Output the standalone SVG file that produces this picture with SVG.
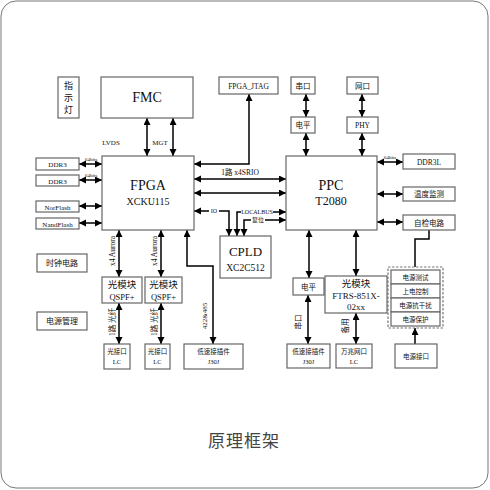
<svg xmlns="http://www.w3.org/2000/svg" width="490" height="490" viewBox="0 0 490 490">
<defs>
<marker id="ah" markerUnits="userSpaceOnUse" markerWidth="8" markerHeight="8" refX="7" refY="3.5" orient="auto-start-reverse"><path d="M0,0 L7,3.5 L0,7 z" fill="#000"/></marker>
<style>
.b{fill:#fff;stroke:#666;stroke-width:1.2}
.t{font-family:"Liberation Serif","Noto Sans CJK SC",serif;fill:#111;text-anchor:middle}
.c{fill:none;stroke:#000;stroke-width:1.5}
.d{marker-start:url(#ah);marker-end:url(#ah)}
.e{marker-end:url(#ah)}
.bg{fill:#fff}
</style>
</defs>
<rect x="1" y="1" width="487" height="487" rx="15" fill="#fff" stroke="#777" stroke-width="1"/>

<g id="connectors">
<path class="c d" d="M147,118 V156" stroke-width="2"/>
<path class="c d" d="M173,118 V156" stroke-width="2"/>
<path class="c d" d="M79,164 H102"/>
<path class="c d" d="M79,180 H102"/>
<path class="c d" d="M79,206 H102"/>
<path class="c d" d="M79,223 H102"/>
<path class="c d" d="M249,94 V164 H194"/>
<path class="c d" d="M194,179 H286"/>
<path class="c d" d="M194,193 H286"/>
<path class="c d" d="M194,211 H229 V236"/>
<path class="c d" d="M237,236 V212 H286"/>
<path class="c d" d="M244,236 V220 H286"/>
<path class="c d" d="M306,94 V117"/>
<path class="c d" d="M306,133 V156"/>
<path class="c d" d="M362,94 V117"/>
<path class="c d" d="M362,133 V156"/>
<path class="c d" d="M377,162 H403"/>
<path class="c d" d="M377,194 H403"/>
<path class="c d" d="M377,222 H403"/>
<path class="c" d="M429,230 V239 H415 V267" stroke-width="1"/>
<path class="c e" d="M415,344 V328"/>
<path class="c d" d="M309,230 V278"/>
<path class="c d" d="M308,295 V344"/>
<path class="c d" d="M356,230 V276"/>
<path class="c d" d="M356,313 V344"/>
<path class="c d" d="M119,230 V277"/>
<path class="c d" d="M161,230 V277"/>
<path class="c d" d="M119,303 V344"/>
<path class="c d" d="M161,303 V344"/>
<path class="c d" d="M187,230 V266 H213 V344"/>
</g>

<g id="labels" class="t">
<text x="91" y="161" font-size="5">64bits</text>
<text x="91" y="177" font-size="5">64bits</text>
<text x="390" y="159" font-size="5">64bits</text>
<text x="111" y="145" font-size="7">LVDS</text>
<text x="160" y="145" font-size="7">MGT</text>
<text x="240" y="175" font-size="7.5">1路 x4SRIO</text>
<rect class="bg" x="209" y="207" width="10" height="7"/>
<text x="214" y="213" font-size="6">IO</text>
<rect class="bg" x="241" y="208" width="32" height="7"/>
<text x="257" y="214" font-size="6">LOCALBUS</text>
<rect class="bg" x="251" y="216" width="14" height="7"/>
<text x="258" y="222" font-size="6">复位</text>
<text transform="translate(115,251) rotate(-90)" font-size="7.5">x4 Aurora</text>
<text transform="translate(157,251) rotate(-90)" font-size="7.5">x4 Aurora</text>
<text transform="translate(115,322) rotate(-90)" font-size="7.5">1路 光纤</text>
<text transform="translate(157,322) rotate(-90)" font-size="7.5">1路 光纤</text>
<text transform="translate(207,316) rotate(-90)" font-size="7">422&amp;485</text>
<text transform="translate(301,322) rotate(-90)" font-size="7.5">串口</text>
<text transform="translate(348,326) rotate(-90)" font-size="7.5">备用</text>
</g>

<g id="fmc"><rect class="b" x="101" y="77" width="92" height="41"/><text class="t" x="147" y="102" font-size="14">FMC</text></g>
<g id="zhishideng"><rect class="b" x="58" y="77" width="21" height="41"/><text class="t" x="68.5" y="89" font-size="9">指</text><text class="t" x="68.5" y="101" font-size="9">示</text><text class="t" x="68.5" y="113" font-size="9">灯</text></g>
<g id="fpga"><rect class="b" x="102" y="156" width="92" height="74"/><text class="t" x="148" y="190" font-size="14">FPGA</text><text class="t" x="148" y="205" font-size="10">XCKU115</text></g>
<g id="ddr3a"><rect class="b" x="36" y="158" width="43" height="12"/><text class="t" x="57.5" y="167" font-size="7">DDR3</text></g>
<g id="ddr3b"><rect class="b" x="36" y="175" width="43" height="11"/><text class="t" x="57.5" y="183.5" font-size="7">DDR3</text></g>
<g id="norflash"><rect class="b" x="36" y="201" width="43" height="11"/><text class="t" x="57.5" y="209.5" font-size="7">NorFlash</text></g>
<g id="nandflash"><rect class="b" x="36" y="218" width="43" height="11"/><text class="t" x="57.5" y="226.5" font-size="7">NandFlash</text></g>
<g id="jtag"><rect class="b" x="219" y="77" width="59" height="17"/><text class="t" x="248.5" y="88.5" font-size="7.5">FPGA_JTAG</text></g>
<g id="chuankou"><rect class="b" x="291" y="77" width="24" height="17"/><text class="t" x="303" y="88.5" font-size="7.5">串口</text></g>
<g id="dianping1"><rect class="b" x="291" y="117" width="24" height="16"/><text class="t" x="303" y="128" font-size="7.5">电平</text></g>
<g id="wangkou"><rect class="b" x="347" y="77" width="31" height="17"/><text class="t" x="362.5" y="88.5" font-size="7.5">网口</text></g>
<g id="phy"><rect class="b" x="347" y="117" width="31" height="16"/><text class="t" x="362.5" y="128" font-size="7.5">PHY</text></g>
<g id="ppc"><rect class="b" x="286" y="156" width="91" height="74"/><text class="t" x="331" y="190" font-size="14">PPC</text><text class="t" x="331" y="205" font-size="12">T2080</text></g>
<g id="cpld"><rect class="b" x="220" y="236" width="51" height="42"/><text class="t" x="245.5" y="256" font-size="13">CPLD</text><text class="t" x="245.5" y="271" font-size="9.5">XC2C512</text></g>
<g id="ddr3l"><rect class="b" x="403" y="154" width="52" height="15"/><text class="t" x="429" y="164.5" font-size="7.5">DDR3L</text></g>
<g id="wendu"><rect class="b" x="403" y="187" width="52" height="14"/><text class="t" x="429" y="197" font-size="7.5">温度监测</text></g>
<g id="zijian"><rect class="b" x="403" y="215" width="52" height="15"/><text class="t" x="429" y="225.5" font-size="7.5">自检电路</text></g>
<g id="power-group">
<rect x="388" y="267" width="55" height="61" fill="none" stroke="#777" stroke-width="1.2" stroke-dasharray="2.5,1.5"/>
<rect class="b" x="391" y="270" width="49" height="14"/><text class="t" x="415.5" y="280" font-size="6.5">电源测试</text>
<rect class="b" x="391" y="284" width="49" height="14"/><text class="t" x="415.5" y="294" font-size="6.5">上电控制</text>
<rect class="b" x="391" y="298" width="49" height="14"/><text class="t" x="415.5" y="308" font-size="6.5">电源抗干扰</text>
<rect class="b" x="391" y="312" width="49" height="14"/><text class="t" x="415.5" y="322" font-size="6.5">电源保护</text>
</g>
<g id="dianyuanjiekou"><rect class="b" x="395" y="344" width="42" height="24"/><text class="t" x="416" y="359" font-size="6.5">电源接口</text></g>
<g id="dianping2"><rect class="b" x="293" y="278" width="31" height="17"/><text class="t" x="308.5" y="289.5" font-size="7.5">电平</text></g>
<g id="ftrs"><rect class="b" x="325" y="276" width="62" height="37"/><text class="t" x="356" y="287" font-size="9.5">光模块</text><text class="t" x="356" y="299" font-size="9">FTRS-851X-</text><text class="t" x="356" y="310" font-size="9">02xx</text></g>
<g id="j30j-right"><rect class="b" x="287" y="344" width="43" height="24"/><text class="t" x="308.5" y="354" font-size="6.5">低速接插件</text><text class="t" x="308.5" y="364" font-size="6.5">J30J</text></g>
<g id="wanzhao"><rect class="b" x="336" y="344" width="36" height="24"/><text class="t" x="354" y="354" font-size="6.5">万兆网口</text><text class="t" x="354" y="364" font-size="6.5">LC</text></g>
<g id="qspf1"><rect class="b" x="102" y="277" width="40" height="26"/><text class="t" x="122" y="288" font-size="9.5">光模块</text><text class="t" x="122" y="300" font-size="8.5">QSPF+</text></g>
<g id="qspf2"><rect class="b" x="145" y="277" width="37" height="26"/><text class="t" x="163.5" y="288" font-size="9.5">光模块</text><text class="t" x="163.5" y="300" font-size="8.5">QSPF+</text></g>
<g id="lc1"><rect class="b" x="104" y="344" width="26" height="25"/><text class="t" x="117" y="354" font-size="6.5">光接口</text><text class="t" x="117" y="364" font-size="6.5">LC</text></g>
<g id="lc2"><rect class="b" x="145" y="344" width="25" height="25"/><text class="t" x="157.5" y="354" font-size="6.5">光接口</text><text class="t" x="157.5" y="364" font-size="6.5">LC</text></g>
<g id="j30j-left"><rect class="b" x="184" y="344" width="59" height="25"/><text class="t" x="213.5" y="354" font-size="6.5">低速接插件</text><text class="t" x="213.5" y="364" font-size="6.5">J30J</text></g>
<g id="shizhong"><rect class="b" x="37" y="254" width="50" height="18"/><text class="t" x="62" y="266" font-size="8">时钟电路</text></g>
<g id="dianyuanguanli"><rect class="b" x="37" y="312" width="50" height="18"/><text class="t" x="62" y="324" font-size="8">电源管理</text></g>
<text x="244" y="447" font-family="'Noto Sans CJK SC',sans-serif" font-size="17" fill="#444" text-anchor="middle" letter-spacing="1">原理框架</text>
</svg>
